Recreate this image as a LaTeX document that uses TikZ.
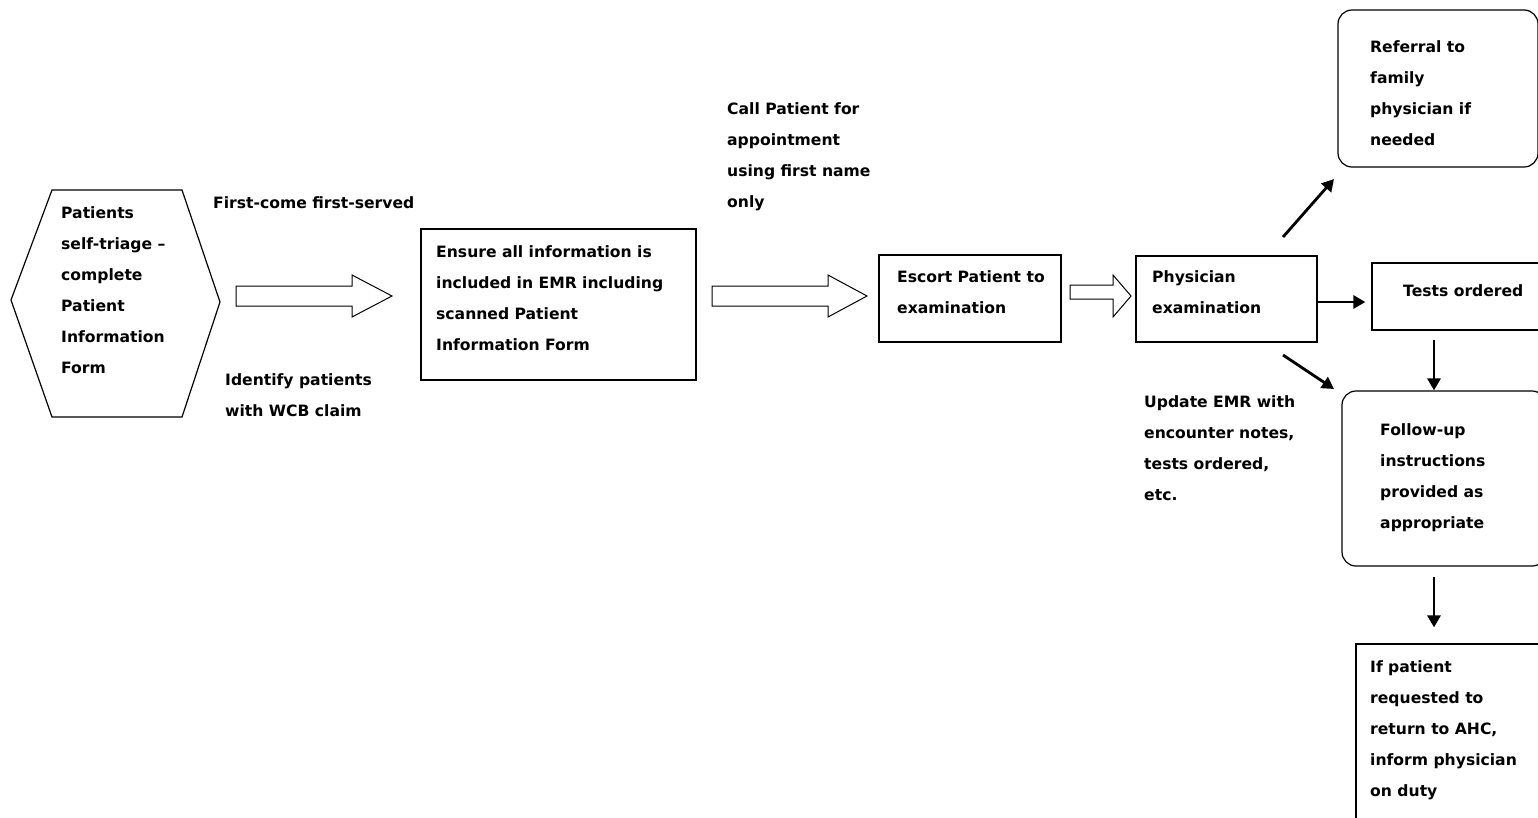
\documentclass[tikz,border=0pt]{standalone}
\usepackage{fontspec}
\setmainfont{DejaVu Sans}
\usetikzlibrary{arrows.meta, positioning}

\begin{document}
\begin{tikzpicture}[
    x=1pt, y=-1pt,
    every node/.style={font=\bfseries\fontsize{15.6}{31}\selectfont},
    box/.style={rectangle, draw, line width=1.2pt, inner sep=0pt},
    roundbox/.style={box, rounded corners=14pt},
    txt/.style={anchor=base west, align=left, inner sep=0pt},
    hollow/.style={draw, line width=1pt, line join=miter},
    arrow/.style={-{Triangle[length=12pt, width=13pt]}, line width=2.8pt}
  ]
  \useasboundingbox (0,0) rectangle (1538,817);
  \clip (0,0) rectangle (1538,817);

  % self-triage hexagon
  \draw[line width=1.2pt] (11,300) -- (52,190) -- (182,190) -- (220,302) -- (182,417) -- (52,417) -- cycle;

  % boxes
  \node[box, minimum width=275pt, minimum height=151pt] (emr) at (558.5,304.5) {};
  \node[box, minimum width=182pt, minimum height=87pt] (escort) at (970,298.5) {};
  \node[box, minimum width=181pt, minimum height=86pt] (phys) at (1226.5,299) {};
  \node[box, minimum width=228pt, minimum height=67pt] (tests) at (1486,296.5) {};
  \node[roundbox, minimum width=200pt, minimum height=157pt] (referral) at (1438,88.5) {};
  \node[roundbox, minimum width=204pt, minimum height=175pt] (followup) at (1444,478.5) {};
  \node[box, minimum width=244pt, minimum height=206pt] (return) at (1478,747) {};

  % texts (placed at the baseline of their last line)
  \node[txt] (triage) at (61,373.5) {Patients\\self-triage –\\complete\\Patient\\Information\\Form};
  \node[txt] (fcfs) at (213,208) {First-come first-served};
  \node[txt] (wcb) at (225,416.5) {Identify patients\\with WCB claim};
  \node[txt] (emrtext) at (436,350) {Ensure all information is\\included in EMR including\\scanned Patient\\Information Form};
  \node[txt] (call) at (727,207.5) {Call Patient for\\appointment\\using first name\\only};
  \node[txt] (escorttext) at (897,313.5) {Escort Patient to\\examination};
  \node[txt] (phystext) at (1152,313.5) {Physician\\examination};
  \node[txt] (teststext) at (1403,296.5) {Tests ordered};
  \node[txt] (reftext) at (1370,145.5) {Referral to\\family\\physician if\\needed};
  \node[txt] (update) at (1144,500.5) {Update EMR with\\encounter notes,\\tests ordered,\\etc.};
  \node[txt] (futext) at (1380,528.5) {Follow-up\\instructions\\provided as\\appropriate};
  \node[txt] (rettext) at (1370,796.5) {If patient\\requested to\\return to AHC,\\inform physician\\on duty};

  % hollow arrows
  \foreach \xa/\xb/\xc/\ya/\yb in {236/352/392/286/306, 712/828/867/286/306, 1070/1113/1131/285/299}
    \draw[hollow] (\xa,\ya) -- (\xb,\ya) -- (\xb,275) -- (\xc,296) -- (\xb,317) -- (\xb,\yb) -- (\xa,\yb) -- cycle;

  % arrow ends
  \coordinate (physup) at (1283,237);
  \coordinate (refin) at (1334,179);
  \coordinate (physdown) at (1283,355);
  \coordinate (fuin) at (1334,389);
  \coordinate (testsout) at (1434,340);
  \coordinate (fuout) at (1434,577);

  \draw[arrow] (physup) -- (refin);
  \draw[arrow, shorten >=6pt] ([yshift=-3pt]phys.east) -- ([yshift=-3pt]phys.east -| tests.west);
  \draw[arrow] (physdown) -- (fuin);
  \draw[arrow] (testsout) -- (testsout |- followup.north);
  \draw[arrow, shorten >=16pt] (fuout) -- (fuout |- return.north);
\end{tikzpicture}
\end{document}
